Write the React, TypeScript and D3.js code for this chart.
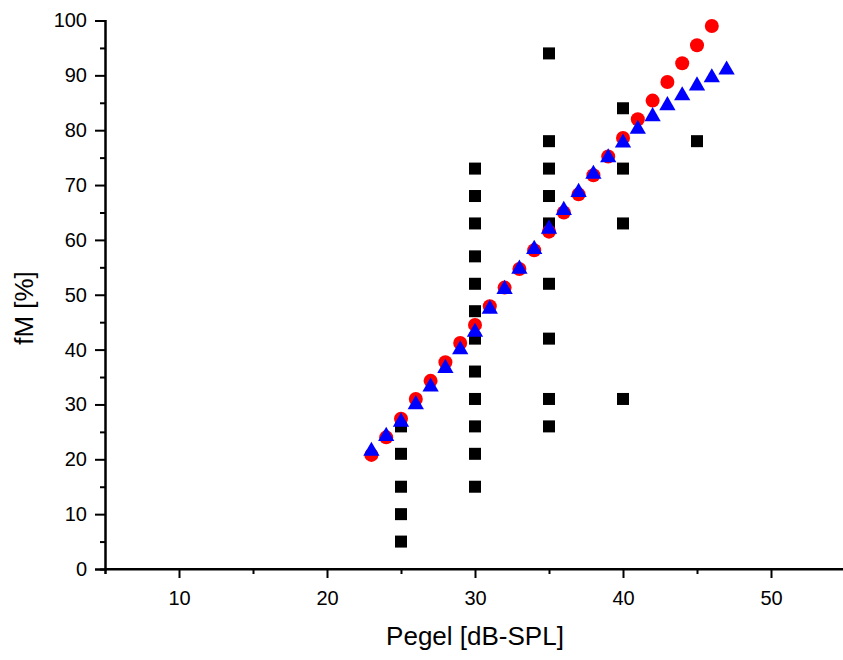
import * as d3 from 'd3';
import { useEffect, useRef } from 'react';

// red circles
const levelsRed = [23, 24, 25, 26, 27, 28, 29, 30, 31, 32, 33, 34, 35, 36, 37, 38, 39, 40, 41, 42, 43, 44, 45, 46];
const fmRed = [20.8, 24.0, 27.4, 31.0, 34.3, 37.7, 41.2, 44.5, 47.9, 51.3, 54.7, 58.1, 61.5, 65.0, 68.3, 71.8, 75.2, 78.6, 82.0, 85.4, 88.8, 92.2, 95.5, 99.0];

// blue triangles
const levelsBlue = [23, 24, 25, 26, 27, 28, 29, 30, 31, 32, 33, 34, 35, 36, 37, 38, 39, 40, 41, 42, 43, 44, 45, 46, 47];
const fmBlue = [21.5, 24.2, 26.8, 30.0, 33.2, 36.6, 40.0, 43.2, 47.4, 51.0, 54.7, 58.3, 62.0, 65.4, 68.7, 72.0, 75.0, 77.7, 80.2, 82.5, 84.5, 86.3, 88.1, 89.6, 91.0];

// black squares (measured)
const levelsBlack = [25, 25, 25, 25, 25,
    30, 30, 30, 30, 30, 30, 30, 30, 30, 30, 30, 30,
    35, 35, 35, 35, 35, 35, 35, 35, 35,
    40, 40, 40, 40,
    45];
const fmBlack = [26, 21, 15, 10, 5,
    73, 68, 63, 57, 52, 47, 42, 36, 31, 26, 21, 15,
    94, 78, 73, 68, 63, 52, 42, 31, 26,
    84, 73, 63, 31,
    78];

const xMajor = [10, 20, 30, 40, 50];
const xMinor = [5, 15, 25, 35, 45, 55];
const yMajor = [0, 10, 20, 30, 40, 50, 60, 70, 80, 90, 100];
const yMinor = [5, 15, 25, 35, 45, 55, 65, 75, 85, 95];

const W = 843, H = 660;
const font = 'Liberation Sans, Arial, sans-serif';

const App = () => {
    const svgRef = useRef(null);
    useEffect(() => {
        const svg = d3.select(svgRef.current);
        const x = d3.scaleLinear().domain([5, 55]).range([105, 845]);
        const y = d3.scaleLinear().domain([0, 100]).range([569, 20.5]);

        // axes
        const xAxis = svg.append('g').attr('transform', `translate(0,${y(0)})`);
        xAxis.call(d3.axisBottom(x).tickValues(xMajor).tickSize(9).tickPadding(13).tickFormat(d3.format('d')));
        xAxis.append('g').call(d3.axisBottom(x).tickValues(xMinor).tickSize(5).tickFormat(() => ''));
        const yAxis = svg.append('g').attr('transform', `translate(${x(5)},0)`);
        yAxis.call(d3.axisLeft(y).tickValues(yMajor).tickSize(10).tickPadding(8).tickFormat(d3.format('d')));
        yAxis.append('g').call(d3.axisLeft(y).tickValues(yMinor).tickSize(5).tickFormat(() => ''));

        svg.selectAll('.domain').attr('stroke', '#000').attr('stroke-width', 2);
        svg.selectAll('.tick line').attr('stroke', '#000').attr('stroke-width', 2);
        svg.selectAll('.tick text')
            .attr('font-family', font)
            .attr('font-size', 20)
            .attr('fill', '#000');
        xAxis.select('.domain').attr('d', `M${x(5)},0H${W}`);

        // titles
        svg.append('text')
            .attr('x', 475).attr('y', 645)
            .attr('text-anchor', 'middle')
            .attr('font-family', font).attr('font-size', 26)
            .text('Pegel [dB-SPL]');
        svg.append('text')
            .attr('transform', 'translate(33,308) rotate(-90)')
            .attr('text-anchor', 'middle')
            .attr('font-family', font).attr('font-size', 26)
            .text('fM [%]');

        // series
        svg.append('g').selectAll('rect')
            .data(levelsBlack.map((l, i) => [l, fmBlack[i]]))
            .enter()
            .append('rect')
            .attr('x', d => x(d[0]) - 6)
            .attr('y', d => y(d[1]) - 6)
            .attr('width', 12).attr('height', 12)
            .attr('fill', '#000');

        svg.append('g').selectAll('circle')
            .data(levelsRed.map((l, i) => [l, fmRed[i]]))
            .enter()
            .append('circle')
            .attr('cx', d => x(d[0]))
            .attr('cy', d => y(d[1]))
            .attr('r', 7)
            .attr('fill', '#ff0000');

        const tri = d3.symbol().type(d3.symbolTriangle).size(115);
        svg.append('g').selectAll('path')
            .data(levelsBlue.map((l, i) => [l, fmBlue[i]]))
            .enter()
            .append('path')
            .attr('d', tri)
            .attr('transform', d => `translate(${x(d[0])},${y(d[1])})`)
            .attr('fill', '#0000ff');

        return () => {
            svg.selectAll('*').remove();
        }
    }, []);

    return (
        <svg ref={svgRef} width={W} height={H}
            style={{ position: 'absolute', left: 0, top: 0, background: '#fff' }}></svg>
    )
}

export default App;
